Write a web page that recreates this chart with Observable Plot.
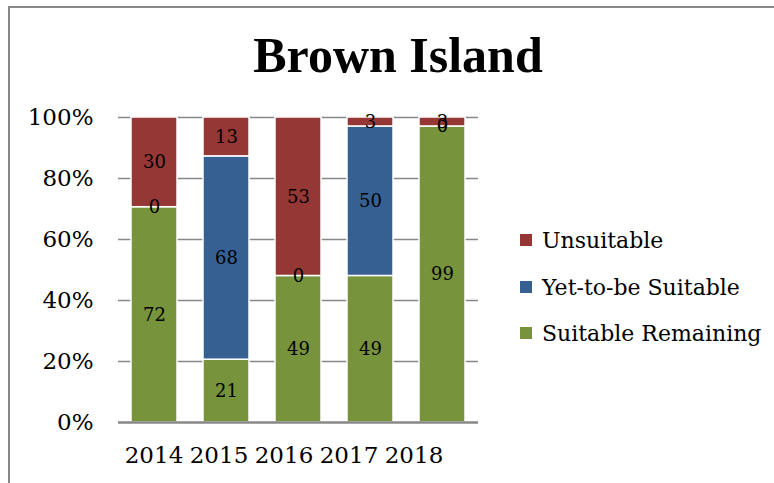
<!DOCTYPE html>
<html>
<head>
<meta charset="utf-8">
<script src="https://cdn.jsdelivr.net/npm/d3@7"></script>
<script src="https://cdn.jsdelivr.net/npm/@observablehq/plot@0.6"></script>
<style>
  html, body { margin: 0; padding: 0; background: #fff; }
  #wrap { position: relative; width: 774px; height: 483px; overflow: hidden; font-family: "DejaVu Serif", serif; }
  #frame { position: absolute; left: 8px; top: 6px; width: 800px; height: 520px; border-left: 2px solid #888; border-top: 2px solid #888; box-sizing: border-box; }
  #title { position: absolute; left: 0; width: 796px; top: 25px; text-align: center; font-family: "Liberation Serif", serif; font-weight: bold; font-size: 50px; line-height: 60px; color: #000; }
  #chart { position: absolute; left: 0; top: 0; }
  #xaxis { position: absolute; left: 0; top: 392px; }
  .leg { position: absolute; left: 520px; display: flex; align-items: center; font-size: 22px; color: #000; white-space: nowrap; }
  .leg span.sw { display: inline-block; width: 12px; height: 12px; margin-right: 10px; }
</style>
</head>
<body>
<div id="wrap">
  <div id="frame"></div>
  <div id="chart"></div>
  <div id="xaxis"></div>
  <div id="title">Brown Island</div>
  <div id="legend"></div>
</div>
<script>
const years = ["2014", "2015", "2016", "2017", "2018"];
const series = ["Suitable Remaining", "Yet-to-be Suitable", "Unsuitable"];
const suitableRemaining = [72, 21, 49, 49, 99];
const yetToBeSuitable = [0, 68, 0, 50, 0];
const unsuitable = [30, 13, 53, 3, 3];
const colors = ["#77933C", "#376092", "#953735"];
const yTicks = [0, 0.2, 0.4, 0.6, 0.8, 1.0];

const valuesBySeries = [suitableRemaining, yetToBeSuitable, unsuitable];
const data = [];
series.forEach((s, si) => {
  years.forEach((y, yi) => {
    data.push({year: y, series: s, value: valuesBySeries[si][yi]});
  });
});

const chart = Plot.plot({
  width: 774,
  height: 483,
  marginLeft: 118,
  marginRight: 296,
  marginTop: 117,
  marginBottom: 61,
  style: {fontFamily: "DejaVu Serif, serif", background: "transparent", overflow: "visible"},
  x: {domain: years, paddingInner: 0.36, paddingOuter: 0.18, label: null, axis: null},
  y: {domain: [0, 1], label: null},
  color: {domain: series, range: colors},
  marks: [
    Plot.ruleY(yTicks.filter(d => d > 0), {stroke: "#888", strokeWidth: 1.5}),
    Plot.barY(data, Plot.stackY({
      x: "year", y: "value", z: "series", order: series, offset: "normalize",
      fill: "series", stroke: "white", strokeWidth: 1.5
    })),
    Plot.ruleY([0], {stroke: "#888", strokeWidth: 2.5}),
    Plot.text(data, Plot.stackY({
      x: "year", y: "value", z: "series", order: series, offset: "normalize",
      text: d => String(d.value), fontSize: 18, fill: "black"
    })),
    Plot.axisY({ticks: yTicks, tickFormat: d3.format(".0%"), tickSize: 0, tickPadding: 25, fontSize: 23, fill: "black"})
  ]
});
document.getElementById("chart").appendChild(chart);

// Category labels: the reference packs them tighter than the bars
const xAxis = Plot.plot({
  width: 774,
  height: 60,
  marginLeft: 121,
  marginRight: 328,
  marginTop: 0,
  marginBottom: 30,
  style: {fontFamily: "DejaVu Serif, serif", background: "transparent", overflow: "visible"},
  x: {type: "band", domain: years, padding: 0, label: null},
  marks: [
    Plot.axisX({tickSize: 0, tickPadding: 24, fontSize: 23, fill: "black"})
  ]
});
document.getElementById("xaxis").appendChild(xAxis);

const legendOrder = [2, 1, 0];
const legendCenters = [240, 287, 333];
const legend = document.getElementById("legend");
legendOrder.forEach((si, i) => {
  const row = document.createElement("div");
  row.className = "leg";
  row.style.top = (legendCenters[i] - 15) + "px";
  row.style.height = "30px";
  const sw = document.createElement("span");
  sw.className = "sw";
  sw.style.background = colors[si];
  row.appendChild(sw);
  row.appendChild(document.createTextNode(series[si]));
  legend.appendChild(row);
});
</script>
</body>
</html>
